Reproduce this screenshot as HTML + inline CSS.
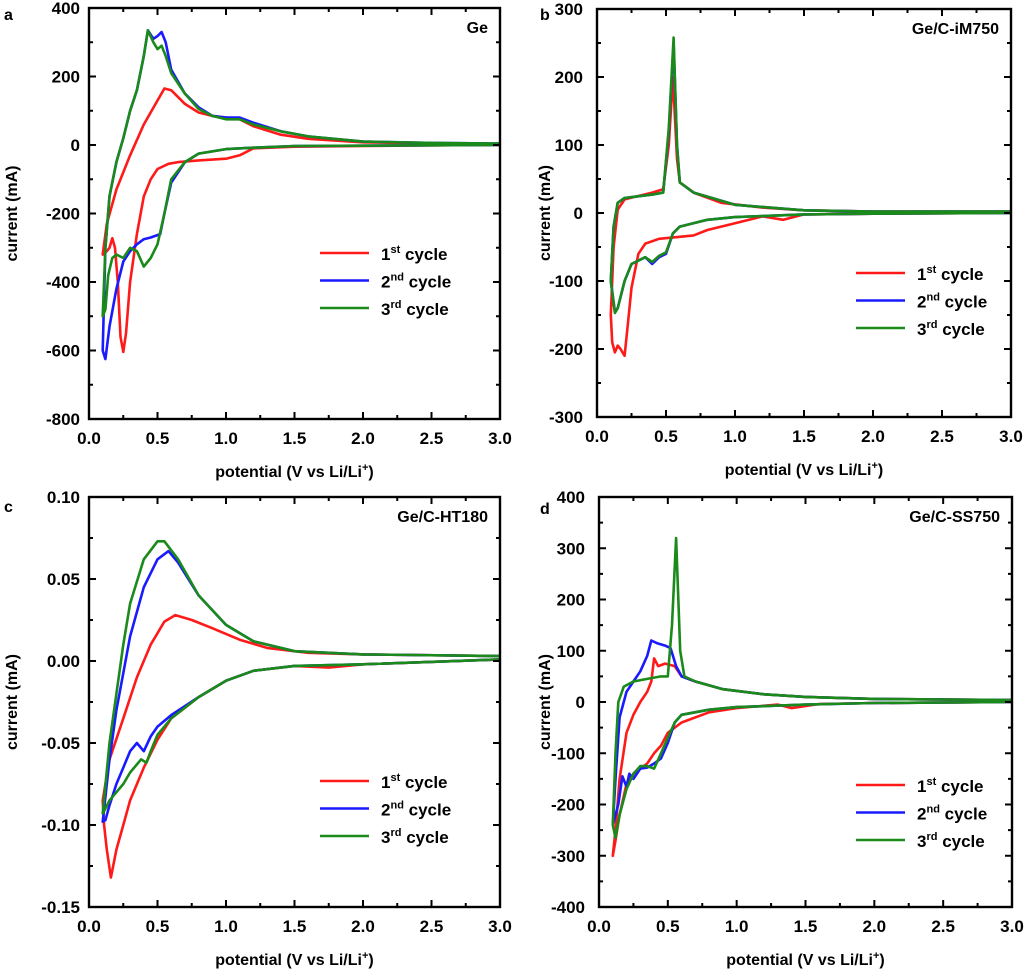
<!DOCTYPE html>
<html><head><meta charset="utf-8"><style>
html,body{margin:0;padding:0;background:#fff;}
svg{display:block;font-family:"Liberation Sans",Arial,sans-serif;font-weight:bold;}
</style></head><body>
<svg id="fig" width="1024" height="979" viewBox="0 0 1024 979"></svg>
<script>
// ---------- data ----------
const xTicks = [0.0, 0.5, 1.0, 1.5, 2.0, 2.5, 3.0];
const yTicksA = [400, 200, 0, -200, -400, -600, -800];
const yTicksB = [300, 200, 100, 0, -100, -200, -300];
const yTicksC = [0.10, 0.05, 0.00, -0.05, -0.10, -0.15];
const yTicksD = [400, 300, 200, 100, 0, -100, -200, -300, -400];
const cycleNames = ["1st", "2nd", "3rd"];
const cycleColors = ["#ff1a1a", "#1a1aff", "#1a8a1a"];

// panel a (Ge)
const aRedV = [3.0,2.5,2.0,1.5,1.2,1.1,1.0,0.8,0.65,0.58,0.5,0.45,0.4,0.35,0.3,0.27,0.25,0.23,0.21,0.19,0.17,0.15,0.13,0.1,0.13,0.2,0.3,0.4,0.5,0.55,0.6,0.7,0.8,0.9,1.0,1.1,1.2,1.4,1.6,2.0,2.5,3.0];
const aRedI = [0,-1,-3,-5,-10,-30,-40,-45,-50,-55,-70,-100,-150,-260,-400,-550,-604,-560,-400,-300,-272,-300,-310,-320,-230,-130,-30,60,130,165,160,120,95,85,80,75,55,30,18,8,5,3];
const aBlueV = [3.0,2.0,1.5,1.2,1.0,0.8,0.7,0.6,0.55,0.52,0.45,0.4,0.35,0.3,0.25,0.2,0.15,0.12,0.1,0.12,0.15,0.2,0.25,0.3,0.35,0.4,0.43,0.47,0.5,0.53,0.56,0.6,0.7,0.8,0.9,1.0,1.1,1.2,1.4,1.6,2.0,2.5,3.0];
const aBlueI = [0,-2,-3,-8,-12,-25,-50,-110,-200,-260,-270,-275,-290,-310,-340,-420,-530,-625,-600,-300,-150,-50,20,100,160,260,335,310,318,330,300,220,150,110,85,80,80,65,40,25,10,6,4];
const aGreenV = [3.0,2.0,1.5,1.2,1.0,0.8,0.7,0.6,0.55,0.5,0.45,0.4,0.35,0.3,0.25,0.2,0.17,0.14,0.12,0.1,0.12,0.15,0.2,0.25,0.3,0.35,0.4,0.43,0.47,0.5,0.53,0.56,0.6,0.7,0.8,0.9,1.0,1.1,1.2,1.4,1.6,2.0,2.5,3.0];
const aGreenI = [0,-2,-3,-8,-12,-25,-50,-100,-200,-290,-330,-355,-310,-300,-330,-320,-330,-380,-480,-500,-300,-150,-50,20,100,160,260,335,300,280,290,260,210,150,105,85,75,75,60,40,25,10,6,4];

// panel b (Ge/C-iM750)
const bRedV = [3.0,2.0,1.5,1.35,1.2,1.0,0.8,0.7,0.6,0.45,0.35,0.3,0.25,0.22,0.2,0.17,0.15,0.13,0.11,0.1,0.12,0.15,0.2,0.3,0.4,0.48,0.52,0.55,0.58,0.6,0.7,0.9,1.2,1.5,2.0,3.0];
const bRedI = [0,-1,-2,-10,-5,-15,-25,-33,-35,-38,-45,-60,-110,-170,-210,-200,-195,-205,-190,-150,-50,5,20,25,30,35,100,200,80,45,30,15,8,4,2,2];
const bBlueV = [3.0,2.0,1.5,1.0,0.8,0.6,0.55,0.5,0.45,0.4,0.35,0.3,0.25,0.2,0.15,0.13,0.1,0.12,0.15,0.2,0.4,0.48,0.52,0.555,0.58,0.6,0.7,1.0,1.5,2.0,3.0];
const bBlueI = [0,-1,-2,-6,-10,-20,-30,-60,-65,-75,-65,-70,-75,-100,-140,-145,-100,-20,15,22,27,30,120,250,100,45,30,12,4,2,2];
const bGreenV = [3.0,2.0,1.5,1.0,0.8,0.6,0.55,0.5,0.45,0.4,0.35,0.3,0.25,0.2,0.15,0.13,0.1,0.12,0.15,0.2,0.4,0.48,0.52,0.555,0.58,0.6,0.7,1.0,1.5,2.0,3.0];
const bGreenI = [0,-1,-2,-6,-10,-20,-30,-58,-63,-72,-65,-70,-75,-100,-140,-147,-100,-20,15,22,27,30,125,258,100,45,30,12,4,2,2];

// panel c (Ge/C-HT180)
const cRedV = [3.0,2.0,1.75,1.5,1.2,1.0,0.8,0.6,0.5,0.4,0.3,0.25,0.2,0.16,0.13,0.11,0.1,0.15,0.25,0.35,0.45,0.55,0.63,0.75,0.9,1.1,1.3,1.6,2.0,3.0];
const cRedI = [0.001,-0.002,-0.004,-0.003,-0.006,-0.012,-0.022,-0.035,-0.048,-0.065,-0.085,-0.1,-0.115,-0.132,-0.115,-0.1,-0.085,-0.06,-0.035,-0.01,0.01,0.024,0.028,0.025,0.02,0.013,0.008,0.005,0.004,0.003];
const cBlueV = [3.0,2.0,1.5,1.2,1.0,0.8,0.6,0.5,0.45,0.4,0.35,0.3,0.25,0.2,0.15,0.12,0.1,0.15,0.2,0.3,0.4,0.5,0.58,0.65,0.8,1.0,1.2,1.5,2.0,3.0];
const cBlueI = [0.001,-0.002,-0.003,-0.006,-0.012,-0.022,-0.033,-0.04,-0.046,-0.055,-0.05,-0.055,-0.065,-0.075,-0.088,-0.097,-0.098,-0.06,-0.03,0.015,0.045,0.062,0.067,0.06,0.04,0.022,0.012,0.006,0.004,0.003];
const cGreenV = [3.0,2.0,1.5,1.2,1.0,0.8,0.6,0.5,0.45,0.42,0.38,0.3,0.25,0.2,0.15,0.12,0.1,0.15,0.2,0.25,0.3,0.4,0.5,0.55,0.65,0.8,1.0,1.2,1.5,2.0,3.0];
const cGreenI = [0.001,-0.002,-0.003,-0.006,-0.012,-0.022,-0.035,-0.045,-0.055,-0.062,-0.06,-0.068,-0.075,-0.08,-0.085,-0.09,-0.093,-0.05,-0.02,0.01,0.035,0.062,0.073,0.073,0.062,0.04,0.022,0.012,0.006,0.004,0.003];

// panel d (Ge/C-SS750)
const dRedV = [3.0,2.0,1.6,1.4,1.3,1.0,0.8,0.6,0.5,0.45,0.4,0.35,0.3,0.25,0.2,0.15,0.12,0.1,0.12,0.15,0.2,0.25,0.3,0.35,0.38,0.4,0.43,0.48,0.55,0.6,0.7,0.9,1.2,1.5,2.0,3.0];
const dRedI = [0,-2,-4,-12,-5,-12,-20,-40,-60,-85,-100,-120,-130,-140,-160,-220,-270,-300,-250,-150,-60,-25,0,20,40,85,70,75,70,50,40,25,15,10,6,4];
const dBlueV = [3.0,2.0,1.5,1.0,0.8,0.6,0.55,0.5,0.45,0.4,0.35,0.3,0.25,0.22,0.2,0.17,0.14,0.1,0.12,0.15,0.2,0.25,0.3,0.35,0.38,0.42,0.48,0.52,0.56,0.6,0.7,0.9,1.2,1.5,2.0,3.0];
const dBlueI = [0,-2,-5,-10,-15,-25,-40,-80,-110,-120,-128,-130,-150,-140,-165,-145,-200,-240,-150,-30,20,40,60,90,120,115,110,105,70,50,40,25,15,10,6,4];
const dGreenV = [3.0,2.0,1.5,1.0,0.8,0.6,0.55,0.5,0.45,0.4,0.35,0.3,0.25,0.2,0.15,0.12,0.1,0.12,0.14,0.18,0.25,0.35,0.45,0.5,0.53,0.56,0.59,0.62,0.7,0.9,1.2,1.5,2.0,3.0];
const dGreenI = [0,-2,-5,-10,-15,-25,-40,-70,-100,-130,-125,-125,-140,-170,-220,-265,-240,-100,0,30,40,45,50,50,150,320,100,50,40,25,15,10,6,4];

// ---------- drawing ----------
const NS = "http://www.w3.org/2000/svg";
const svg = document.getElementById("fig");
function mk(tag, attrs, parent) {
  const el = document.createElementNS(NS, tag);
  for (const k in attrs) el.setAttribute(k, attrs[k]);
  (parent || svg).appendChild(el);
  return el;
}

const panels = [
  {id:"a", title:"Ge", x0:89, x1:500, yTop:8, yBot:419, yTicks:yTicksA, dec:0, lblOff:9, titleX:17,
   series:[[aRedV,aRedI],[aBlueV,aBlueI],[aGreenV,aGreenI]], legX:320, legY:253, letterX:4, letterY:20},
  {id:"b", title:"Ge/C-iM750", x0:597, x1:1011, yTop:9, yBot:417, yTicks:yTicksB, dec:0, lblOff:14, titleX:550,
   series:[[bRedV,bRedI],[bBlueV,bBlueI],[bGreenV,bGreenI]], legX:856, legY:273, letterX:540, letterY:20},
  {id:"c", title:"Ge/C-HT180", x0:89, x1:500, yTop:497, yBot:907, yTicks:yTicksC, dec:2, lblOff:9, titleX:17,
   series:[[cRedV,cRedI],[cBlueV,cBlueI],[cGreenV,cGreenI]], legX:320, legY:781, letterX:4, letterY:512},
  {id:"d", title:"Ge/C-SS750", x0:599, x1:1012, yTop:497, yBot:907, yTicks:yTicksD, dec:0, lblOff:14, titleX:550,
   series:[[dRedV,dRedI],[dBlueV,dBlueI],[dGreenV,dGreenI]], legX:856, legY:785, letterX:540, letterY:514}
];

panels.forEach(p => {
  const g = mk("g", {});
  
  
  const yMax = p.yTicks[0], yMin = p.yTicks[p.yTicks.length-1];
  const sx = v => p.x0 + (v - xTicks[0]) / (xTicks[xTicks.length-1] - xTicks[0]) * (p.x1 - p.x0);
  const sy = v => p.yTop + (yMax - v) / (yMax - yMin) * (p.yBot - p.yTop);

  p.series.forEach((s, i) => {
    const pts = s[0].map((v, k) => sx(v).toFixed(1) + "," + sy(s[1][k]).toFixed(1)).join(" ");
    const pl = mk("polyline", {points: pts, fill: "none", stroke: cycleColors[i], "stroke-width": 2.6, "stroke-linejoin": "round"}, g);
    
    
  });

  const fr = mk("rect", {x:p.x0, y:p.yTop, width:p.x1-p.x0, height:p.yBot-p.yTop, fill:"none", stroke:"#000", "stroke-width":2.4}, g);
  
  

  xTicks.forEach((t, i) => {
    const x = sx(t);
    mk("line", {x1:x, x2:x, y1:p.yBot, y2:p.yBot-7, stroke:"#000", "stroke-width":2}, g);
    mk("line", {x1:x, x2:x, y1:p.yTop, y2:p.yTop+7, stroke:"#000", "stroke-width":2}, g);
    if (i < xTicks.length-1) {
      const xm = sx(t + 0.25);
      mk("line", {x1:xm, x2:xm, y1:p.yBot, y2:p.yBot-4, stroke:"#000", "stroke-width":2}, g);
      mk("line", {x1:xm, x2:xm, y1:p.yTop, y2:p.yTop+4, stroke:"#000", "stroke-width":2}, g);
    }
    const tx = mk("text", {x:x, y:p.yBot+25, "text-anchor":"middle", "font-size":17}, g);
    tx.textContent = t.toFixed(1);
    
    
  });
  const step = p.yTicks[0] - p.yTicks[1];
  p.yTicks.forEach((t, i) => {
    const y = sy(t);
    mk("line", {x1:p.x0, x2:p.x0+7, y1:y, y2:y, stroke:"#000", "stroke-width":2}, g);
    mk("line", {x1:p.x1, x2:p.x1-7, y1:y, y2:y, stroke:"#000", "stroke-width":2}, g);
    if (i < p.yTicks.length-1) {
      const ym = sy(t - step/2);
      mk("line", {x1:p.x0, x2:p.x0+4, y1:ym, y2:ym, stroke:"#000", "stroke-width":2}, g);
      mk("line", {x1:p.x1, x2:p.x1-4, y1:ym, y2:ym, stroke:"#000", "stroke-width":2}, g);
    }
    const ty = mk("text", {x:p.x0-p.lblOff, y:y+6, "text-anchor":"end", "font-size":17}, g);
    ty.textContent = t.toFixed(p.dec);
    
    
  });

  const xt = mk("text", {x:(p.x0+p.x1)/2, y:p.yBot+58, "text-anchor":"middle", "font-size":16}, g);
  xt.innerHTML = 'potential (V vs Li/Li<tspan dy="-6" font-size="11">+</tspan><tspan dy="6">)</tspan>';
  
  
  const ycx = p.titleX, ycy = (p.yTop + p.yBot)/2;
  const yt = mk("text", {x:ycx, y:ycy, "text-anchor":"middle", "font-size":16, transform:`rotate(-90 ${ycx} ${ycy})`}, g);
  yt.textContent = "current (mA)";
  
  

  const tt = mk("text", {x:p.x1-12, y:p.yTop+25, "text-anchor":"end", "font-size":16}, g);
  tt.textContent = p.title;
  
  
  const lt = mk("text", {x:p.letterX, y:p.letterY, "font-size":16}, g);
  lt.textContent = p.id;
  
  

  cycleNames.forEach((n, i) => {
    const ly = p.legY + i*27.5;
    const ll = mk("line", {x1:p.legX, x2:p.legX+49, y1:ly, y2:ly, stroke:cycleColors[i], "stroke-width":2.4}, g);
    
    
    const le = mk("text", {x:p.legX+61, y:ly+7, "font-size":17}, g);
    le.innerHTML = n[0] + '<tspan dy="-7" font-size="11">' + n.slice(1) + '</tspan><tspan dy="7"> cycle</tspan>';
    
    
  });
});
</script>
</body></html>
